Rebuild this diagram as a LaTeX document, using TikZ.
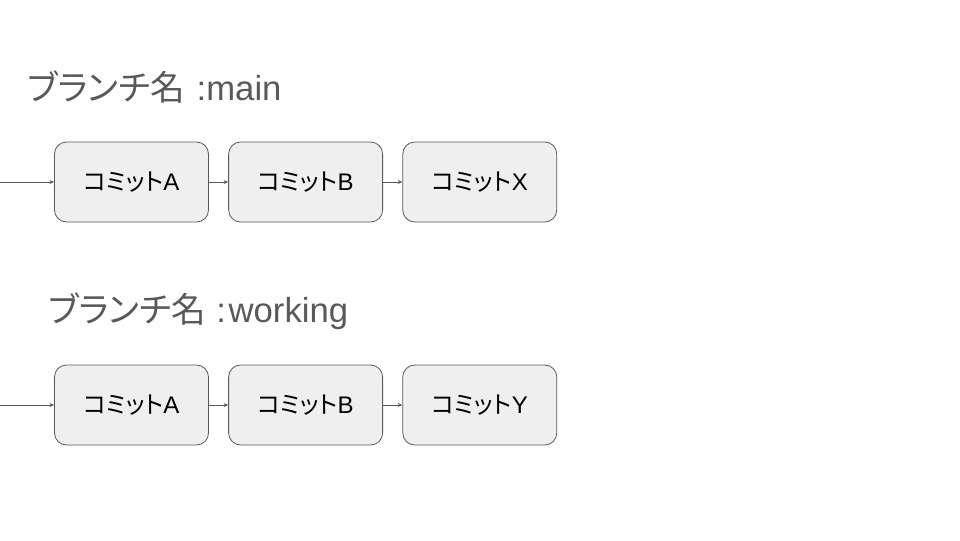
\documentclass[tikz,border=0pt]{standalone}
\usepackage{fontspec}
\setmainfont{Liberation Sans}
\newfontfamily\jp[RawFeature=+palt]{Noto Sans CJK JP}
\usetikzlibrary{arrows.meta}
\usetikzlibrary{positioning}
\definecolor{edgegray}{HTML}{595959}
\definecolor{boxfill}{HTML}{EFEFEF}
\definecolor{labelgray}{HTML}{595959}

\begin{document}
\begin{tikzpicture}[x=0.75pt,y=-0.75pt,
    commit/.style={draw=edgegray, fill=boxfill, line width=0.6pt, rounded corners=9pt,
      minimum width=115.5pt, minimum height=60pt, font=\fontsize{18}{20}\selectfont},
    branch/.style={anchor=west, inner sep=0pt, text=labelgray, font=\fontsize{26}{30}\selectfont},
    link/.style={draw=edgegray, line width=0.5pt, -{Stealth[length=3.5pt,width=3pt]}},
    node distance=14.5pt]
    \useasboundingbox (0,0) rectangle (960,540);

    % main
    \node[branch] (mainname) at (27,87) {{\jp ブランチ名}\hspace{9pt}:main};
    \node[commit] (ma) at (131.5,182) {{\jp コミット}A};
    \node[commit, right=of ma] (mb) {{\jp コミット}B};
    \node[commit, right=of mb] (mx) {{\jp コミット}X};
    \coordinate (mstart) at (0,182);

    % working
    \node[branch] (workname) at (48,311) {{\jp ブランチ名}\hspace{8pt}:\hspace{2pt}working};
    \node[commit] (wa) at (131.5,405) {{\jp コミット}A};
    \node[commit, right=of wa] (wb) {{\jp コミット}B};
    \node[commit, right=of wb] (wy) {{\jp コミット}Y};
    \coordinate (wstart) at (0,405);

    \draw[link] (mstart) -- (ma);
    \draw[link] (ma) -- (mb);
    \draw[link] (mb) -- (mx);
    \draw[link] (wstart) -- (wa);
    \draw[link] (wa) -- (wb);
    \draw[link] (wb) -- (wy);
\end{tikzpicture}
\end{document}
